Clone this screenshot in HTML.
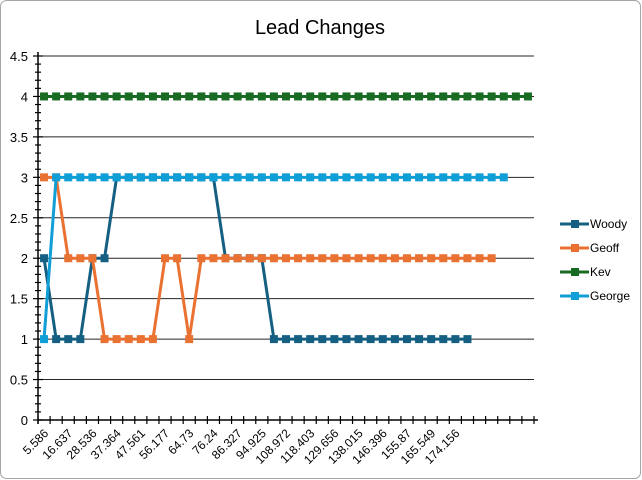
<!DOCTYPE html>
<html><head><meta charset="utf-8"><style>
html,body{margin:0;padding:0;background:#fff}
svg{display:block;font-family:"Liberation Sans",sans-serif}
</style></head><body>
<svg id="chart" width="642" height="480" viewBox="0 0 642 480">
<rect x="0.5" y="0.5" width="640" height="478" rx="6" fill="#fff" stroke="#a6a6a6"/>
<text x="320" y="34" text-anchor="middle" font-size="20" fill="#000">Lead Changes</text>
<g id="grid"></g><g id="axes"></g><g id="series"></g><g id="legend"></g>
</svg>
<script>
const categories = ["5.586","11.2","16.637","22.1","28.536","33.0","37.364","42.5","47.561","52.0","56.177","60.4","64.73","70.5","76.24","81.3","86.327","90.6","94.925","101.9","108.972","113.7","118.403","124.0","129.656","133.8","138.015","142.2","146.396","151.1","155.87","160.7","165.549","169.9","174.156","","","","","",""];
const showLabel = categories.map((c,i)=>i%2===0 && c!=="");
const woody = [2,1,1,1,2,2,3,3,3,3,3,3,3,3,3,2,2,2,2,1,1,1,1,1,1,1,1,1,1,1,1,1,1,1,1,1];
const geoff = [3,3,2,2,2,1,1,1,1,1,2,2,1,2,2,2,2,2,2,2,2,2,2,2,2,2,2,2,2,2,2,2,2,2,2,2,2,2];
const kev = [4,4,4,4,4,4,4,4,4,4,4,4,4,4,4,4,4,4,4,4,4,4,4,4,4,4,4,4,4,4,4,4,4,4,4,4,4,4,4,4,4];
const george = [1,3,3,3,3,3,3,3,3,3,3,3,3,3,3,3,3,3,3,3,3,3,3,3,3,3,3,3,3,3,3,3,3,3,3,3,3,3,3];
const yTicks = [0,0.5,1,1.5,2,2.5,3,3.5,4,4.5];
const seriesNames = ["Woody","Geoff","Kev","George"];
const seriesColors = ["#156082","#e97132","#196b24","#0f9ed5"];
const seriesData = [woody,geoff,kev,george];

const NS="http://www.w3.org/2000/svg";
const X0=38,X1=534,Y0=420,Y1=56,YMAX=4.5;
const step=(X1-X0)/categories.length;
const xs=i=>X0+(i+0.5)*step;
const ys=v=>Y0-(v/YMAX)*(Y0-Y1);
function mk(tag,attrs,parent){const e=document.createElementNS(NS,tag);for(const k in attrs)e.setAttribute(k,attrs[k]);parent.appendChild(e);return e;}
const grid=document.getElementById('grid'),axes=document.getElementById('axes'),ser=document.getElementById('series'),leg=document.getElementById('legend');
yTicks.forEach(v=>{
  if(v>0){const g=mk('line',{x1:X0,x2:X1,y1:ys(v),y2:ys(v),stroke:'#262626','stroke-width':1},grid);
  
  }
  const t=mk('text',{x:X0-10,y:ys(v)+5,'text-anchor':'end','font-size':13,fill:'#000'},axes);
  t.textContent=String(v);
  
  
});
for(let k=0;k<=45;k++){const y=ys(k*0.1);const w=(k%5===0)?5:3;
  const m=mk('line',{x1:X0-w,x2:X0+w,y1:y,y2:y,stroke:'#000','stroke-width':1.2},axes);
  
  }
const ya=mk('line',{x1:X0,x2:X0,y1:Y1-4,y2:Y0+4,stroke:'#000','stroke-width':1.5},axes);


const xa=mk('line',{x1:X0,x2:X1+4,y1:Y0,y2:Y0,stroke:'#000','stroke-width':1.5},axes);


for(let i=0;i<=categories.length;i++){const x=X0+i*step;
  const m=mk('line',{x1:x,x2:x,y1:Y0-4,y2:Y0+4,stroke:'#000','stroke-width':1.2},axes);
  
  }
categories.forEach((c,i)=>{ if(!showLabel[i])return;
  const x=xs(i)+5,y=Y0+14;
  const t=mk('text',{x:x,y:y,'text-anchor':'end','font-size':12,fill:'#000',transform:`rotate(-45 ${x} ${y})`},axes);
  t.textContent=c;
  
  
});
seriesData.forEach((d,s)=>{
  const g=mk('g',{},ser);
  
  
  const pts=d.map((v,i)=>xs(i)+','+ys(v)).join(' ');
  const l=mk('polyline',{points:pts,fill:'none',stroke:seriesColors[s],'stroke-width':3,'stroke-linejoin':'round'},g);
  
  
  d.forEach((v,i)=>{const r=mk('rect',{x:xs(i)-4,y:ys(v)-4,width:8,height:8,fill:seriesColors[s]},g);
    
    });
});
const legY=[224,248,272,296];
seriesNames.forEach((n,s)=>{
  const g=mk('g',{},leg);
  
  
  mk('line',{x1:560,x2:589,y1:legY[s],y2:legY[s],stroke:seriesColors[s],'stroke-width':3},g);
  mk('rect',{x:571,y:legY[s]-4,width:8,height:8,fill:seriesColors[s]},g);
  const t=mk('text',{x:590,y:legY[s]+4,'font-size':12,fill:'#000'},g);
  t.textContent=n;
});
</script>
</body></html>
